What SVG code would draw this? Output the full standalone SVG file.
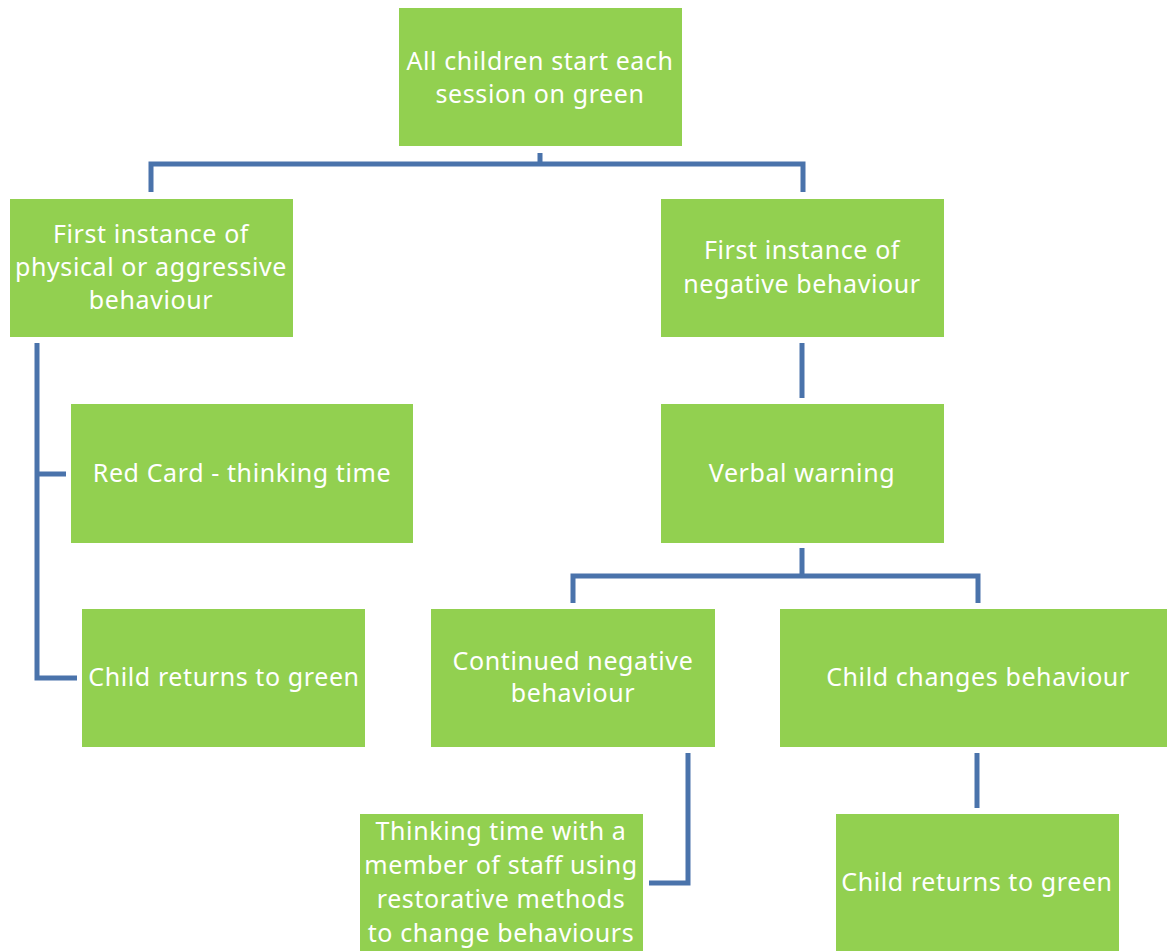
<svg xmlns="http://www.w3.org/2000/svg" width="1167" height="951" viewBox="0 0 1167 951">
<style>
.box{fill:#92D050}
.t{fill:#fff;font-family:"Noto Sans","DejaVu Sans",sans-serif;font-size:25px;letter-spacing:0.6px;text-anchor:middle}
.c{fill:none;stroke:#4A73AB;stroke-width:5;stroke-linejoin:miter}
</style>
<rect width="1167" height="951" fill="#fff"/>
<g id="connectors">
<path class="c" d="M540,153V165M151,192V164H803V192"/>
<path class="c" d="M37,343V678H77M37,474H66"/>
<path class="c" d="M802,343V398"/>
<path class="c" d="M802,548V576M573,603V576H978V603"/>
<path class="c" d="M688,753V883H649"/>
<path class="c" d="M977,753V808"/>
</g>
<g id="n-top"><rect class="box" x="399" y="8" width="283" height="138"/>
<text class="t" x="540" y="70">All children start each</text><text class="t" x="540" y="103">session on green</text></g>
<g id="n-physical"><rect class="box" x="10" y="199" width="283" height="138"/>
<text class="t" x="151" y="243">First instance of</text><text class="t" x="151" y="276">physical or aggressive</text><text class="t" x="151" y="309">behaviour</text></g>
<g id="n-negative"><rect class="box" x="661" y="199" width="283" height="138"/>
<text class="t" x="802" y="259">First instance of</text><text class="t" x="802" y="293">negative behaviour</text></g>
<g id="n-redcard"><rect class="box" x="71" y="404" width="342" height="139"/>
<text class="t" x="242" y="482">Red Card - thinking time</text></g>
<g id="n-returns-left"><rect class="box" x="82" y="609" width="283" height="138"/>
<text class="t" x="224" y="686">Child returns to green</text></g>
<g id="n-verbal"><rect class="box" x="661" y="404" width="283" height="139"/>
<text class="t" x="802" y="482">Verbal warning</text></g>
<g id="n-continued"><rect class="box" x="431" y="609" width="284" height="138"/>
<text class="t" x="573" y="670">Continued negative</text><text class="t" x="573" y="702">behaviour</text></g>
<g id="n-changes"><rect class="box" x="780" y="609" width="387" height="138"/>
<text class="t" x="978" y="686">Child changes behaviour</text></g>
<g id="n-thinking"><rect class="box" x="360" y="814" width="283" height="137"/>
<text class="t" x="501" y="840">Thinking time with a</text><text class="t" x="501" y="874">member of staff using</text><text class="t" x="501" y="908">restorative methods</text><text class="t" x="501" y="942">to change behaviours</text></g>
<g id="n-returns-right"><rect class="box" x="836" y="814" width="283" height="137"/>
<text class="t" x="977" y="891">Child returns to green</text></g>
</svg>
